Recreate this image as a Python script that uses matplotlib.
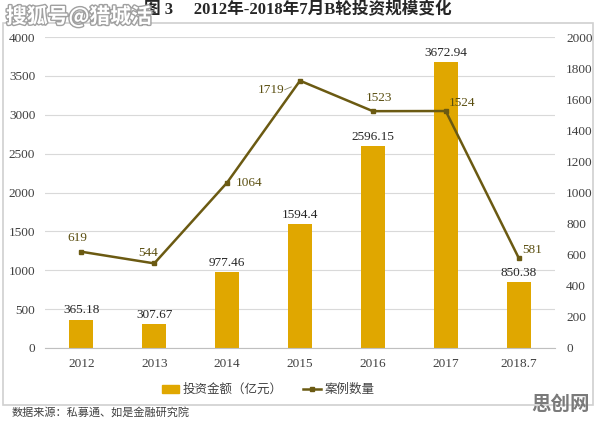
import matplotlib
matplotlib.use("Agg")
import matplotlib.pyplot as plt
from matplotlib.patches import Rectangle
from matplotlib.lines import Line2D
import matplotlib.patheffects as pe

plt.rcParams["font.family"] = ["Liberation Serif", "Noto Sans CJK SC", "DejaVu Sans"]

years = ["2012", "2013", "2014", "2015", "2016", "2017", "2018.7"]
amount = [365.18, 307.67, 977.46, 1594.4, 2596.15, 3672.94, 850.38]
cases = [619, 544, 1064, 1719, 1523, 1524, 581]
amount_labels = ["365.18", "307.67", "977.46", "1594.4", "2596.15", "3672.94", "850.38"]

bar_color = "#E0A700"
line_color = "#6B5A12"
grid_color = "#D9D9D9"
text_color = "#404040"

fig = plt.figure(figsize=(5.96, 4.22), dpi=100)
fig.patch.set_facecolor("white")

# outer frame of the chart
fig.add_artist(Rectangle((3 / 596, 17 / 422), 590 / 596, 382 / 422,
                         transform=fig.transFigure, fill=False,
                         edgecolor="#D0D0D0", lw=1.2))

ax = fig.add_axes([45 / 596, 74 / 422, 510 / 596, 311 / 422])
ax2 = ax.twinx()

x = list(range(len(years)))
ax.bar(x, amount, width=0.33, color=bar_color, zorder=2)
ax.set_xlim(-0.5, 6.5)
ax.set_ylim(0, 4000)
ax.set_yticks(range(0, 4001, 500))
ax.set_xticks(x)
ax.set_xticklabels(years)
ax.grid(axis="y", color=grid_color, lw=0.8, zorder=0)
ax.set_axisbelow(True)

for a in (ax, ax2):
    for s in a.spines.values():
        s.set_visible(False)
    a.tick_params(length=0, labelsize=9.5, colors=text_color)
ax.spines["bottom"].set_visible(True)
ax.spines["bottom"].set_color("#BFBFBF")
ax.tick_params(axis="y", pad=7)
ax.tick_params(axis="x", pad=7)
ax2.tick_params(axis="y", pad=8)

for xi, v, lab in zip(x, amount, amount_labels):
    ax.text(xi, v + 40, lab, ha="center", va="bottom", fontsize=9.5,
            color="#262626")

ax2.set_ylim(0, 2000)
ax2.set_yticks(range(0, 2001, 200))
ax2.plot(x, cases, color=line_color, lw=1.8, marker="s", markersize=3.5,
         zorder=3)

# label placement per point: (dx, dy, ha)
offsets = [(-0.05, 90, "center"), (-0.08, 70, "center"), (0.12, 0, "left"),
           (-0.22, -58, "right"), (0.08, 84, "center"), (0.04, 50, "left"),
           (0.055, 50, "left")]
for xi, v, (dx, dy, ha) in zip(x, cases, offsets):
    ax2.text(xi + dx, v + dy, str(v), ha=ha, va="center", fontsize=9.5,
             color="#5A4E10", zorder=4)
# small leader for the 2015 label
ax2.plot([3 - 0.21, 3 - 0.12], [cases[3] - 58, cases[3] - 40],
         color="#8A8A6A", lw=0.6, zorder=3)

handles = [Rectangle((0, 0), 1, 1, color=bar_color),
           Line2D([], [], color=line_color, lw=1.8, marker="s", markersize=3.5)]
fig.legend(handles, ["投资金额（亿元）", "案例数量"], loc="center",
           bbox_to_anchor=(268 / 596, 32 / 422), ncol=2, frameon=False,
           fontsize=9, handlelength=1.4, handleheight=0.6,
           handletextpad=0.3, columnspacing=1.6, labelcolor="#404040")

fig.text(0.5, 1 - 10 / 422, "图 3     2012年-2018年7月B轮投资规模变化",
         ha="center", va="center", fontsize=12, fontweight="bold",
         color="#262626")
fig.text(12 / 596, 1 - 412 / 422, "数据来源：私募通、如是金融研究院",
         ha="left", va="center", fontsize=8, color="#404040")

# watermarks
fig.text(6 / 596, 1 - 16 / 422, "搜狐号@猎城活", ha="left", va="center",
         fontsize=15, fontweight="bold", color="white",
         path_effects=[pe.withStroke(linewidth=2, foreground="#A0A0A0")],
         family=["Noto Sans CJK SC"])
fig.text(590 / 596, 1 - 404 / 422, "思创网", ha="right", va="center",
         fontsize=14, fontweight="bold", color="#7A7A7A",
         family=["Noto Sans CJK SC"])

fig.savefig("out.png", dpi=100)
